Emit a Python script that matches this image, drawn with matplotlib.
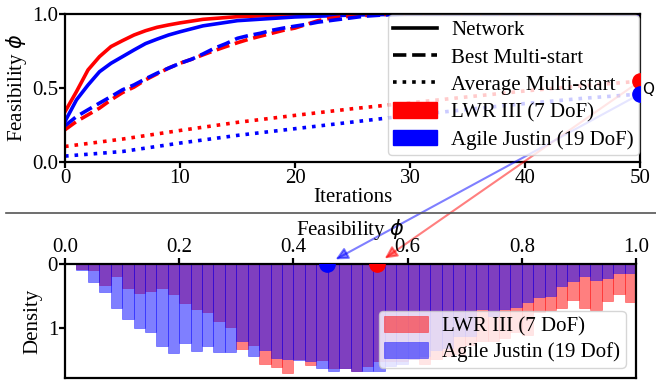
import numpy as np
import matplotlib
matplotlib.use("Agg")
import matplotlib.pyplot as plt
from matplotlib.lines import Line2D
from matplotlib.patches import Patch, ConnectionPatch

plt.rcParams['font.family'] = ['Liberation Serif', 'DejaVu Sans']
plt.rcParams['font.size'] = 15

# --- top panel: feasibility vs iterations ---
it_net = [0, 1, 2, 3, 4, 5, 6, 7, 8, 9, 10, 12, 15, 20, 25, 30, 40, 50]
lwr_net = [0.34, 0.476, 0.622, 0.712, 0.78, 0.82, 0.858, 0.887, 0.91, 0.926, 0.94,
           0.964, 0.982, 0.995, 1.0, 1.0, 1.0, 1.0]
aj_net = [0.274, 0.42, 0.52, 0.61, 0.667, 0.712, 0.757, 0.80, 0.83, 0.858, 0.88,
          0.92, 0.955, 0.98, 0.993, 0.999, 1.0, 1.0]

it_best = list(range(31)) + [40, 50]
lwr_best = [0.218, 0.274, 0.319, 0.364, 0.42, 0.469, 0.506, 0.555, 0.595, 0.634, 0.667,
            0.694, 0.724, 0.753, 0.78, 0.806, 0.83, 0.85, 0.87, 0.89, 0.905,
            0.93, 0.955, 0.97, 0.98, 0.986, 0.99, 0.995, 0.998, 1.0, 1.0, 1.0, 1.0]
aj_best = [0.245, 0.307, 0.353, 0.398, 0.442, 0.488, 0.521, 0.562, 0.60, 0.634, 0.667,
           0.694, 0.73, 0.769, 0.80, 0.836, 0.855, 0.87, 0.89, 0.905, 0.918,
           0.93, 0.945, 0.955, 0.965, 0.975, 0.985, 0.99, 0.995, 0.998, 1.0, 1.0, 1.0]

it_avg = [0, 5, 10, 15, 20, 25, 30, 35, 40, 45, 50]
lwr_avg = [0.105, 0.155, 0.213, 0.268, 0.315, 0.36, 0.40, 0.44, 0.48, 0.515, 0.546]
aj_avg = [0.04, 0.071, 0.128, 0.18, 0.225, 0.27, 0.315, 0.355, 0.395, 0.43, 0.459]

lwr_mean = 0.546
aj_mean = 0.459

# --- bottom panel: histogram of final feasibility (50 bins on [0, 1]) ---
bin_edges = np.linspace(0, 1, 51)
lwr_density = [0, 0.078, 0.089, 0.328, 0.1875, 0.375, 0.453, 0.422, 0.375, 0.469,
               0.609, 0.703, 0.75, 0.89, 0.979, 1.323, 1.26, 1.56, 1.604, 1.70,
               1.474, 1.573, 1.484, 1.615, 1.61, 1.667, 1.578, 1.50, 1.50, 1.50,
               1.47, 1.56, 1.48, 1.43, 1.40, 1.25, 1.20, 1.20, 1.15, 1.05,
               1.10, 0.74, 0.72, 0.677, 0.557, 0.677, 0.708, 0.573, 0.469, 0.583]
aj_density = [0, 0.089, 0.276, 0.432, 0.682, 0.854, 0.995, 1.057, 1.276, 1.385,
              1.229, 1.354, 1.276, 1.37, 1.37, 1.198, 1.432, 1.328, 1.453, 1.469,
              1.484, 1.51, 1.62, 1.667, 1.62, 1.66, 1.667, 1.667, 1.58, 1.55,
              1.48, 1.43, 1.33, 1.30, 1.12, 1.12, 0.70, 0.80, 0.70, 0.667,
              0.583, 0.505, 0.49, 0.349, 0.271, 0.193, 0.245, 0.219, 0.146, 0.146]

fig = plt.figure(figsize=(6.56, 3.81), dpi=100)
ax1 = fig.add_axes([65/656, 1-162/381, 575/656, 148/381])
ax2 = fig.add_axes([65/656, 1-378/381, 571/656, 114/381])

lw = 2.6
ax1.plot(it_net, lwr_net, color='red', lw=lw)
ax1.plot(it_net, aj_net, color='blue', lw=lw)
ax1.plot(it_best, lwr_best, color='red', lw=lw, ls='--')
ax1.plot(it_best, aj_best, color='blue', lw=lw, ls='--')
ax1.plot(it_avg, lwr_avg, color='red', lw=lw, ls=':')
ax1.plot(it_avg, aj_avg, color='blue', lw=lw, ls=':')
ax1.plot([50], [lwr_mean], 'o', color='red', ms=11, zorder=12)
ax1.plot([50], [aj_mean], 'o', color='blue', ms=11, zorder=12)

ax1.set_xlim(0, 50)
ax1.set_ylim(0, 1)
ax1.set_xticks([0, 10, 20, 30, 40, 50])
ax1.set_yticks([0, 0.5, 1.0])
ax1.set_xlabel('Iterations', labelpad=0)
ax1.set_ylabel(r'Feasibility $\phi$', labelpad=2)

handles = [Line2D([], [], color='black', lw=lw),
           Line2D([], [], color='black', lw=lw, ls='--'),
           Line2D([], [], color='black', lw=lw, ls=':'),
           Patch(color='red'), Patch(color='blue')]
labels = ['Network', 'Best Multi-start', 'Average Multi-start',
          'LWR III (7 DoF)', 'Agile Justin (19 DoF)']
leg1 = ax1.legend(handles, labels, loc='upper right', borderaxespad=0.05,
                  handlelength=2.1, handleheight=0.75, handletextpad=0.7,
                  labelspacing=0.36, borderpad=0.25, framealpha=0.8)
leg1.set_zorder(10)

# histogram, hanging downwards
ax2.bar(bin_edges[:-1], lwr_density, width=0.02, align='edge', color='red',
        alpha=0.5, edgecolor='red', lw=0.5, label='LWR III (7 DoF)')
ax2.bar(bin_edges[:-1], aj_density, width=0.02, align='edge', color='blue',
        alpha=0.5, edgecolor='blue', lw=0.5, label='Agile Justin (19 Dof)')
ax2.plot([lwr_mean], [0], 'o', color='red', ms=11, zorder=6)
ax2.plot([aj_mean], [0], 'o', color='blue', ms=11, zorder=6)
ax2.set_xlim(0, 1)
ax2.set_ylim(1.77, 0)
ax2.set_yticks([0, 1])
ax2.set_xticks([0, 0.2, 0.4, 0.6, 0.8, 1.0])
ax2.xaxis.tick_top()
ax2.xaxis.set_label_position('top')
ax2.set_xlabel(r'Feasibility $\phi$', labelpad=2)
ax2.set_ylabel('Density', labelpad=4)
ax2.legend(loc='lower right', borderaxespad=0.5, handlelength=2.1,
           handleheight=0.75, handletextpad=0.7, labelspacing=0.3,
           borderpad=0.25, framealpha=0.8)

for ax in (ax1, ax2):
    for sp in ax.spines.values():
        sp.set_linewidth(1.6)
    ax.tick_params(direction='out', length=4, width=1.6, labelsize=15, pad=1)

# arrows from mean on top to the histogram
for mean, col in ((lwr_mean, 'red'), (aj_mean, 'blue')):
    con = ConnectionPatch(xyA=(50, mean), coordsA=ax1.transData,
                          xyB=(mean, 0), coordsB=ax2.transData,
                          arrowstyle='-|>', mutation_scale=18, color=col,
                          alpha=0.5, lw=1.5, shrinkA=6, shrinkB=7, zorder=4)
    con.set_clip_on(False)
    ax1.add_artist(con)

fig.add_artist(Line2D([6/656, 1.0], [1-212.5/381]*2, color='#555555', lw=1.2))
fig.text(648/656, 1-90/381, 'Q', family='DejaVu Sans', fontsize=11,
         ha='center', va='center')

fig.savefig('out.png', dpi=100)
